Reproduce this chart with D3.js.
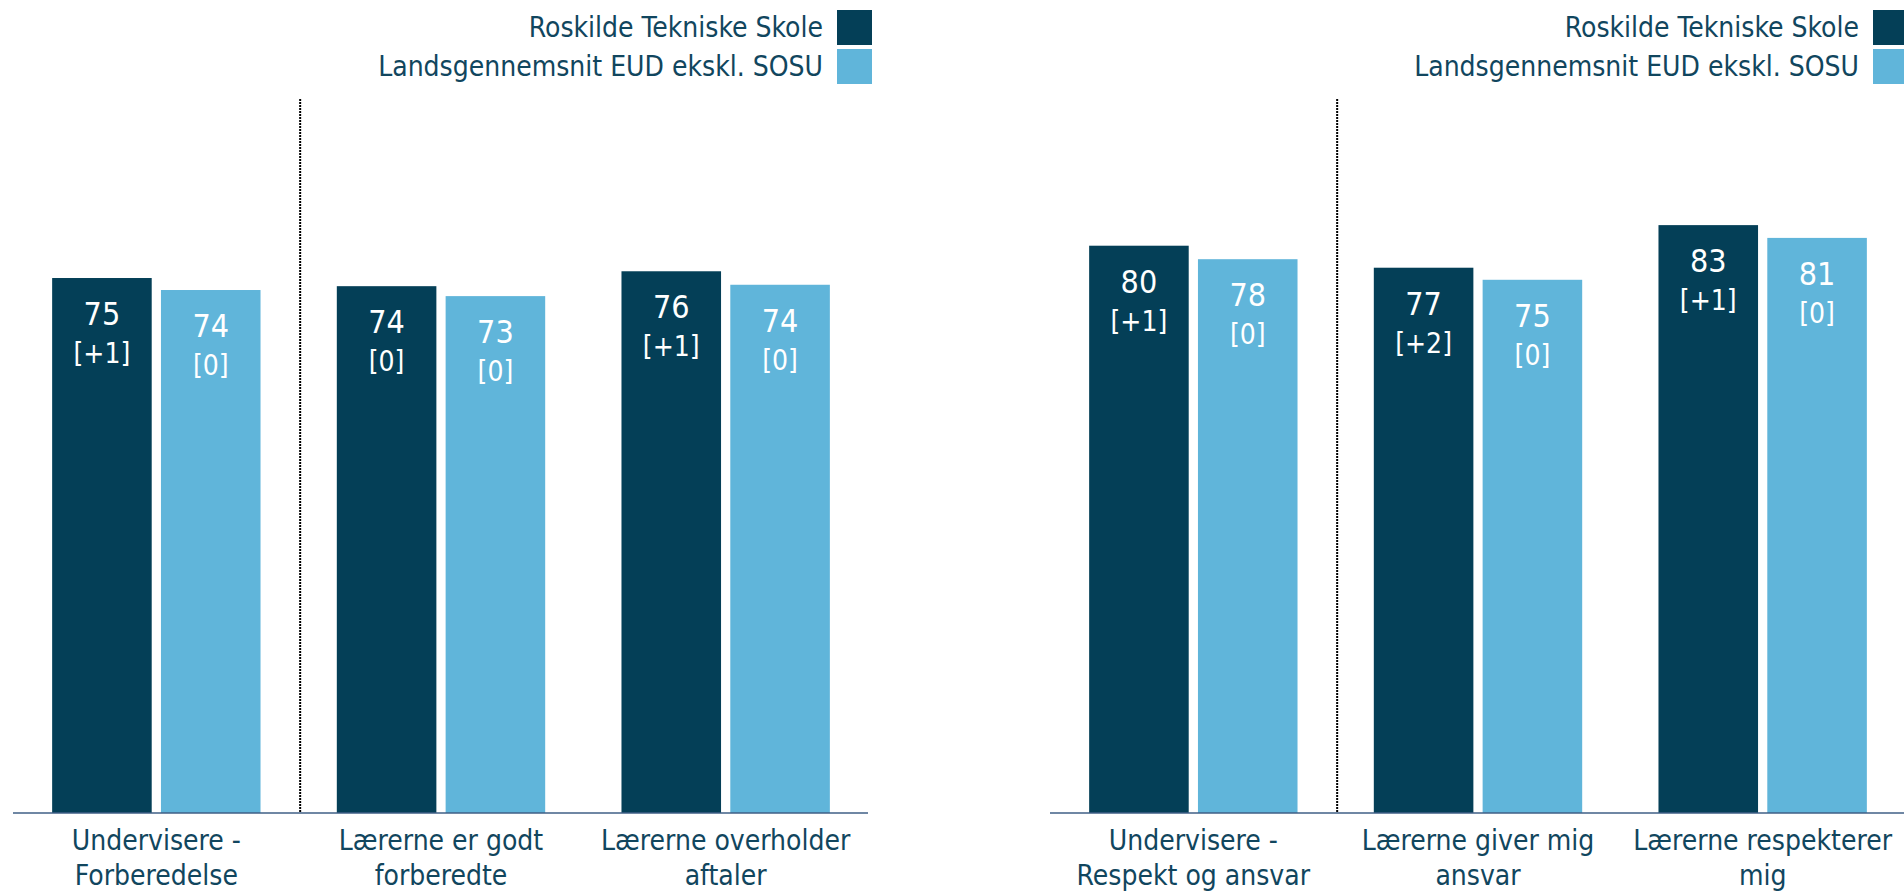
<!DOCTYPE html>
<html>
<head>
<meta charset="utf-8">
<script src="https://cdn.jsdelivr.net/npm/d3@7"></script>
<style>
  html, body { margin: 0; padding: 0; background: #ffffff; }
  svg { display: block; }
  text { font-family: "DejaVu Sans Condensed", "DejaVu Sans", sans-serif; }
</style>
</head>
<body>
<svg id="chart" width="1904" height="893"></svg>
<script>
// ---- data ----
const seriesNames = ["Roskilde Tekniske Skole", "Landsgennemsnit EUD ekskl. SOSU"];
const seriesColors = ["#043f57", "#60b5da"];

const categoriesLeft = [["Undervisere -", "Forberedelse"], ["Lærerne er godt", "forberedte"], ["Lærerne overholder", "aftaler"]];
const schoolLeft = [75.35, 74.2, 76.3];
const avgLeft = [73.66, 72.8, 74.4];
const schoolChangeLeft = ["[+1]", "[0]", "[+1]"];
const avgChangeLeft = ["[0]", "[0]", "[0]"];

const categoriesRight = [["Undervisere -", "Respekt og ansvar"], ["Lærerne giver mig", "ansvar"], ["Lærerne respekterer", "mig"]];
const schoolRight = [79.9, 76.8, 82.8];
const avgRight = [78.0, 75.1, 81.0];
const schoolChangeRight = ["[+1]", "[+2]", "[+1]"];
const avgChangeRight = ["[0]", "[0]", "[0]"];

const yDomain = [0, 100];

// ---- drawing ----
const svg = d3.select("#chart");
const textColor = "#11465e";
const y = d3.scaleLinear().domain(yDomain).range([813, 103]);

function drawPanel(cats, school, avg, schoolCh, avgCh, xRange, legendRight) {
  const keys = cats.map(c => c.join(" "));
  const rows = keys.map((k, i) => ({
    key: k, lines: cats[i],
    vals: [
      { s: 0, v: school[i], ch: schoolCh[i] },
      { s: 1, v: avg[i], ch: avgCh[i] }
    ]
  }));
  const x0 = d3.scaleBand().domain(keys).range(xRange).paddingInner(0).paddingOuter(0);
  const bw = x0.bandwidth();
  const x1 = d3.scaleBand().domain([0, 1]).range([bw * 0.134, bw * 0.866]).paddingInner(0.085);

  const g = svg.append("g");

  // separator after first (summary) category
  const sepX = x0(keys[1]) + 1.5;
  g.append("line")
    .attr("x1", sepX).attr("x2", sepX)
    .attr("y1", 99).attr("y2", y(0))
    .attr("stroke", "#000").attr("stroke-width", 2)
    .attr("stroke-dasharray", "2,1");

  const grp = g.selectAll(".grp").data(rows).join("g")
    .attr("transform", d => `translate(${x0(d.key)},0)`);

  grp.selectAll("rect").data(d => d.vals).join("rect")
    .attr("x", d => x1(d.s))
    .attr("width", x1.bandwidth())
    .attr("y", d => y(d.v))
    .attr("height", d => y(0) - y(d.v))
    .attr("fill", d => seriesColors[d.s]);

  grp.selectAll("text.val").data(d => d.vals).join("text")
    .attr("class", "val")
    .attr("x", d => x1(d.s) + x1.bandwidth() / 2)
    .attr("y", d => y(d.v) + 47)
    .attr("text-anchor", "middle")
    .attr("fill", "#ffffff")
    .attr("font-size", 32)
    .text(d => Math.round(d.v));

  grp.selectAll("text.ch").data(d => d.vals).join("text")
    .attr("class", "ch")
    .attr("x", d => x1(d.s) + x1.bandwidth() / 2)
    .attr("y", d => y(d.v) + 85)
    .attr("text-anchor", "middle")
    .attr("fill", "#ffffff")
    .attr("font-size", 28)
    .text(d => d.ch);

  // axis
  const axis = g.append("g")
    .attr("transform", `translate(0,${y(0)})`)
    .call(d3.axisBottom(x0).tickSize(0).tickSizeOuter(0).tickFormat(""));
  axis.select(".domain")
    .attr("stroke", "#3f5f86").attr("stroke-width", 1.6)
    .attr("d", `M${xRange[0] - 1},0H${xRange[1]}`);
  axis.selectAll(".tick text").remove();
  axis.selectAll(".tick").each(function (k, i) {
    const t = d3.select(this).append("text")
      .attr("text-anchor", "middle")
      .attr("fill", textColor)
      .attr("font-size", 28)
      .attr("y", 37);
    cats[i].forEach((ln, j) => {
      t.append("tspan").attr("x", 0).attr("dy", j === 0 ? 0 : 35).text(ln);
    });
  });

  // legend
  const lg = g.append("g");
  seriesNames.forEach((name, i) => {
    lg.append("rect")
      .attr("x", legendRight - 35).attr("y", 10 + i * 39)
      .attr("width", 35).attr("height", 35)
      .attr("fill", seriesColors[i]);
    lg.append("text")
      .attr("x", legendRight - 49).attr("y", 37 + i * 39)
      .attr("text-anchor", "end")
      .attr("fill", textColor)
      .attr("font-size", 28)
      .text(name);
  });
}

drawPanel(categoriesLeft, schoolLeft, avgLeft, schoolChangeLeft, avgChangeLeft, [14, 868], 872);
drawPanel(categoriesRight, schoolRight, avgRight, schoolChangeRight, avgChangeRight, [1051, 1905], 1908);
</script>
</body>
</html>
